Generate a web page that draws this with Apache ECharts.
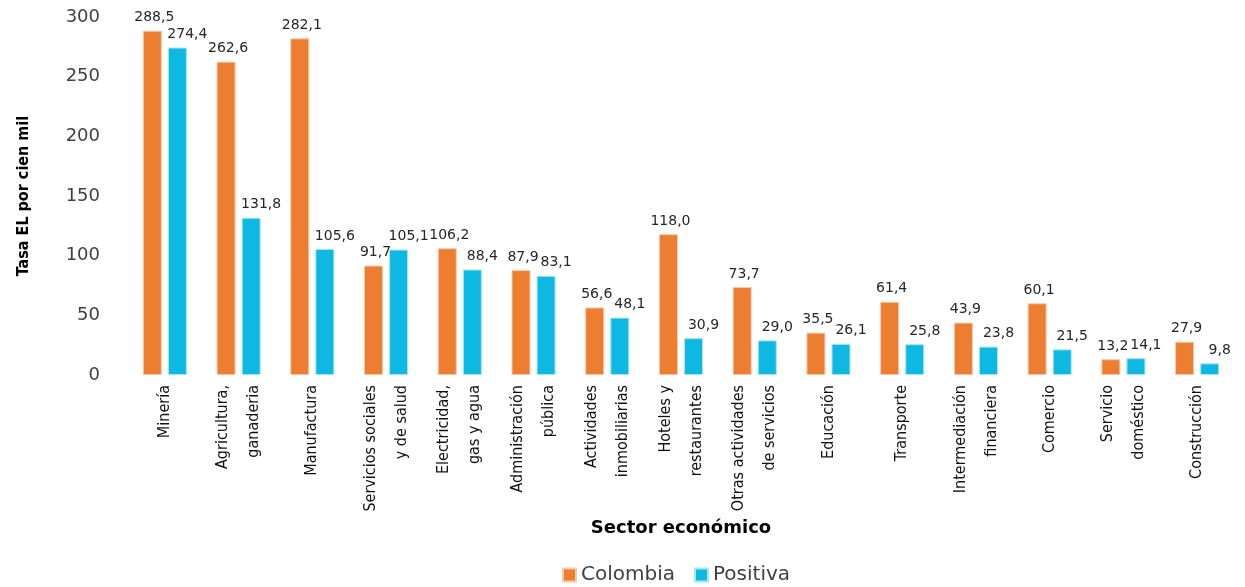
<!DOCTYPE html>
<html>
<head>
<meta charset="utf-8">
<script src="https://cdn.jsdelivr.net/npm/echarts@6/dist/echarts.min.js"></script>
<style>
html,body{margin:0;padding:0;background:#fff;}
#chart{width:1245px;height:587px;}
</style>
</head>
<body>
<div id="chart"></div>
<script>
const categories = [
  'Minería',
  'Agricultura,\nganaderia',
  'Manufactura',
  'Servicios sociales\ny de salud',
  'Electricidad,\ngas y agua',
  'Administración\npública',
  'Actividades\ninmobiliarias',
  'Hoteles y\nrestaurantes',
  'Otras actividades\nde servicios',
  'Educación',
  'Transporte',
  'Intermediación\nfinanciera',
  'Comercio',
  'Servicio\ndoméstico',
  'Construcción'
];
const colombia = [288.5, 262.6, 282.1, 91.7, 106.2, 87.9, 56.6, 118.0, 73.7, 35.5, 61.4, 43.9, 60.1, 13.2, 27.9];
const positiva = [274.4, 131.8, 105.6, 105.1, 88.4, 83.1, 48.1, 30.9, 29.0, 26.1, 25.8, 23.8, 21.5, 14.1, 9.8];
const yTicks = [0, 50, 100, 150, 200, 250, 300];

const condensed = "'Liberation Sans Narrow', 'DejaVu Sans Condensed', 'Roboto Condensed', sans-serif";
const wide = "'DejaVu Sans', Verdana, sans-serif";
const fmt = v => v.toFixed(1).replace('.', ',');

const chart = echarts.init(document.getElementById('chart'));
chart.setOption({
  animation: false,
  grid: { left: 128, right: 11, top: 17, bottom: 212, containLabel: false },
  legend: {
    bottom: -3,
    left: 557,
    itemWidth: 13, itemHeight: 13, itemGap: 19,
    icon: 'rect',
    textStyle: { fontFamily: wide, fontSize: 20, color: '#404040' },
    data: ['Colombia', 'Positiva']
  },
  xAxis: {
    type: 'category',
    data: categories,
    name: 'Sector económico',
    nameLocation: 'middle',
    nameGap: 132,
    nameTextStyle: { fontFamily: wide, fontWeight: 'bold', fontSize: 18, color: '#000' },
    axisLine: { show: false },
    axisTick: { show: false },
    axisLabel: {
      rotate: 90,
      interval: 0,
      margin: 10,
      fontFamily: condensed,
      fontSize: 16,
      lineHeight: 31,
      color: '#111'
    }
  },
  yAxis: {
    type: 'value',
    min: 0, max: 300, interval: 50,
    name: 'Tasa EL por cien mil',
    nameLocation: 'middle',
    nameGap: 96,
    nameTextStyle: { fontFamily: condensed, fontWeight: 'bold', fontSize: 16, color: '#000' },
    axisLine: { show: false },
    axisTick: { show: false },
    splitLine: { show: false },
    axisLabel: {
      margin: 28,
      fontFamily: wide,
      fontSize: 18,
      color: '#404040',
      formatter: v => yTicks.includes(v) ? String(v) : ''
    }
  },
  series: [
    {
      name: 'Colombia',
      type: 'bar',
      data: colombia,
      barWidth: 19,
      barGap: '32%',
      itemStyle: { color: '#ED7D31', borderColor: '#F8C9A8', borderWidth: 1 },
      label: {
        show: true, position: 'top', distance: 6, offset: [2, 0],
        fontFamily: wide, fontSize: 14, color: '#262626',
        formatter: p => fmt(p.value)
      }
    },
    {
      name: 'Positiva',
      type: 'bar',
      data: positiva,
      barWidth: 19,
      itemStyle: { color: '#0DB8E2', borderColor: '#A8E4F4', borderWidth: 1 },
      label: {
        show: true, position: 'top', distance: 6, offset: [10, 0],
        fontFamily: wide, fontSize: 14, color: '#262626',
        formatter: p => fmt(p.value)
      }
    }
  ]
});
</script>
</body>
</html>
